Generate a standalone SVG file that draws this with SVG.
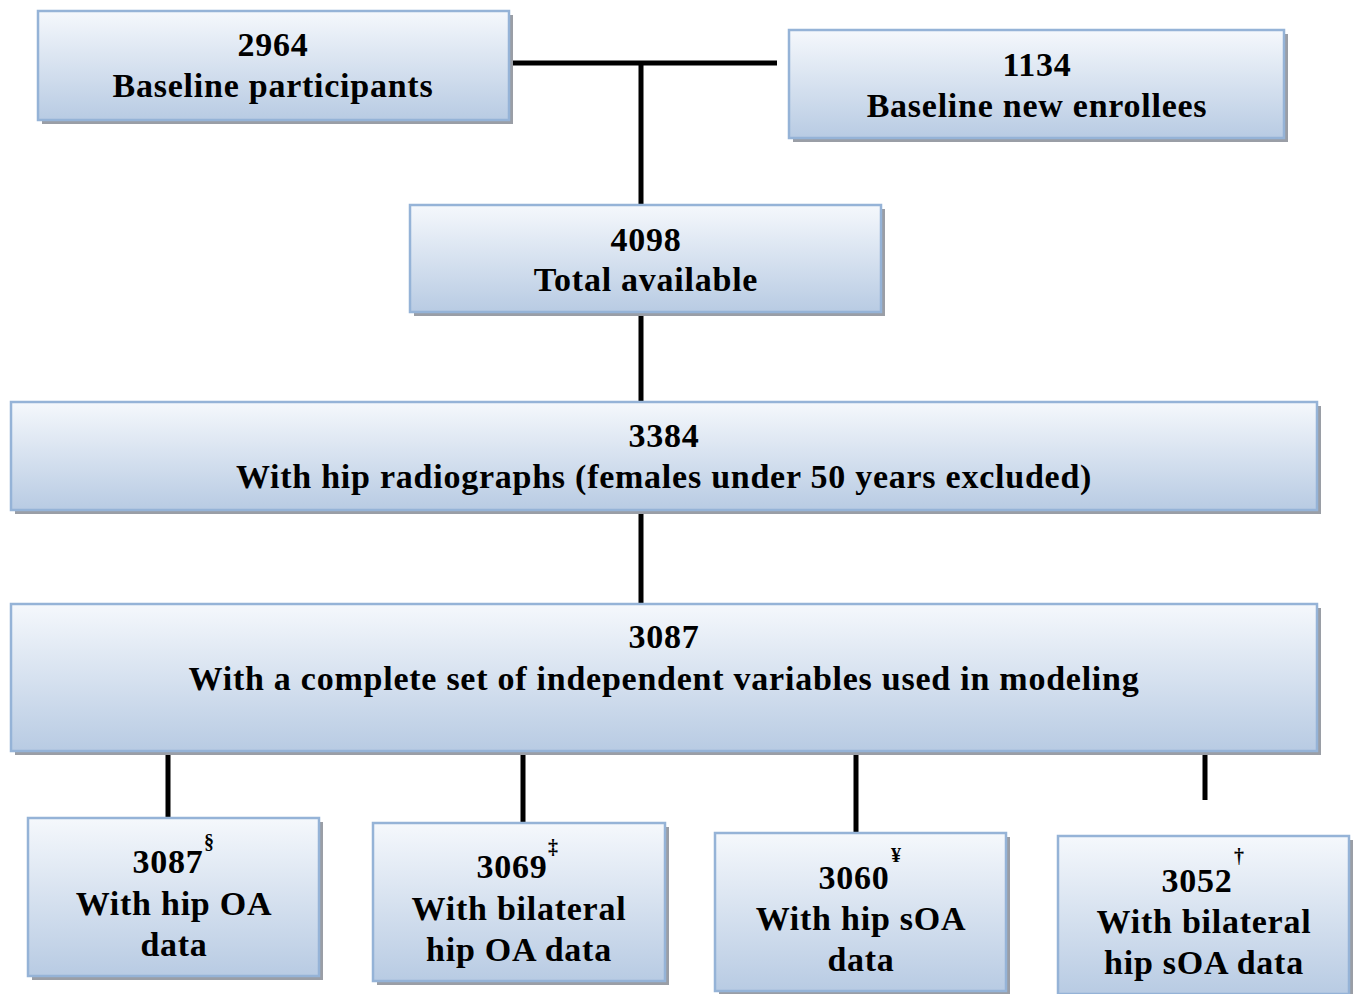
<svg xmlns="http://www.w3.org/2000/svg" width="1355" height="994" viewBox="0 0 1355 994">
<defs>
<linearGradient id="g" x1="0" y1="0" x2="0" y2="1">
<stop offset="0" stop-color="#f5f8fc"/>
<stop offset="1" stop-color="#b8cbe3"/>
</linearGradient>
</defs>
<style>
.box{fill:url(#g);stroke:#95b3d7;stroke-width:2.5}
.sh{fill:#9a9ea6}
.t{font-family:"Liberation Serif","Times New Roman",serif;font-weight:bold;font-size:34px;letter-spacing:0.75px;fill:#000;text-anchor:middle}
.sup{font-size:20px;letter-spacing:0}
.c{stroke:#000;stroke-width:5;fill:none}
</style>
<rect width="1355" height="994" fill="#fff"/>
<g id="connectors">
<path class="c" d="M510 63H777M641 63V205M641 313V402M641 511V604M168 752V818M523 752V823M856 752V833M1205 752V800"/>
</g>
<g id="n1">
<rect class="sh" x="42" y="15" width="471" height="109"/>
<rect class="box" x="38" y="11" width="471" height="109"/>
<text class="t" x="273" y="56">2964</text>
<text class="t" x="273" y="97">Baseline participants</text>
</g>
<g id="n2">
<rect class="sh" x="793" y="34" width="495" height="108"/>
<rect class="box" x="789" y="30" width="495" height="108"/>
<text class="t" x="1037" y="76">1134</text>
<text class="t" x="1037" y="117">Baseline new enrollees</text>
</g>
<g id="n3">
<rect class="sh" x="414" y="209" width="471" height="107"/>
<rect class="box" x="410" y="205" width="471" height="107"/>
<text class="t" x="646" y="251">4098</text>
<text class="t" x="646" y="291">Total available</text>
</g>
<g id="n4">
<rect class="sh" x="15" y="406" width="1306" height="108"/>
<rect class="box" x="11" y="402" width="1306" height="108"/>
<text class="t" x="664" y="447">3384</text>
<text class="t" x="664" y="488">With hip radiographs (females under 50 years excluded)</text>
</g>
<g id="n5">
<rect class="sh" x="15" y="608" width="1306" height="147"/>
<rect class="box" x="11" y="604" width="1306" height="147"/>
<text class="t" x="664" y="648">3087</text>
<text class="t" x="664" y="690">With a complete set of independent variables used in modeling</text>
</g>
<g id="b1">
<rect class="sh" x="32" y="822" width="291" height="158"/>
<rect class="box" x="28" y="818" width="291" height="158"/>
<text class="t" x="168" y="873">3087</text>
<text class="t sup" x="209" y="849">§</text>
<text class="t" x="174" y="915">With hip OA</text>
<text class="t" x="174" y="956">data</text>
</g>
<g id="b2">
<rect class="sh" x="377" y="827" width="292" height="158"/>
<rect class="box" x="373" y="823" width="292" height="158"/>
<text class="t" x="512" y="878">3069</text>
<text class="t sup" x="553" y="854">‡</text>
<text class="t" x="519" y="920">With bilateral</text>
<text class="t" x="519" y="961">hip OA data</text>
</g>
<g id="b3">
<rect class="sh" x="719" y="837" width="291" height="158"/>
<rect class="box" x="715" y="833" width="291" height="158"/>
<text class="t" x="854" y="889">3060</text>
<text class="t sup" x="896" y="862">¥</text>
<text class="t" x="861" y="930">With hip sOA</text>
<text class="t" x="861" y="971">data</text>
</g>
<g id="b4">
<rect class="sh" x="1062" y="840" width="291" height="158"/>
<rect class="box" x="1058" y="836" width="291" height="158"/>
<text class="t" x="1197" y="892">3052</text>
<text class="t sup" x="1239" y="863">†</text>
<text class="t" x="1204" y="933">With bilateral</text>
<text class="t" x="1204" y="974">hip sOA data</text>
</g>
</svg>
